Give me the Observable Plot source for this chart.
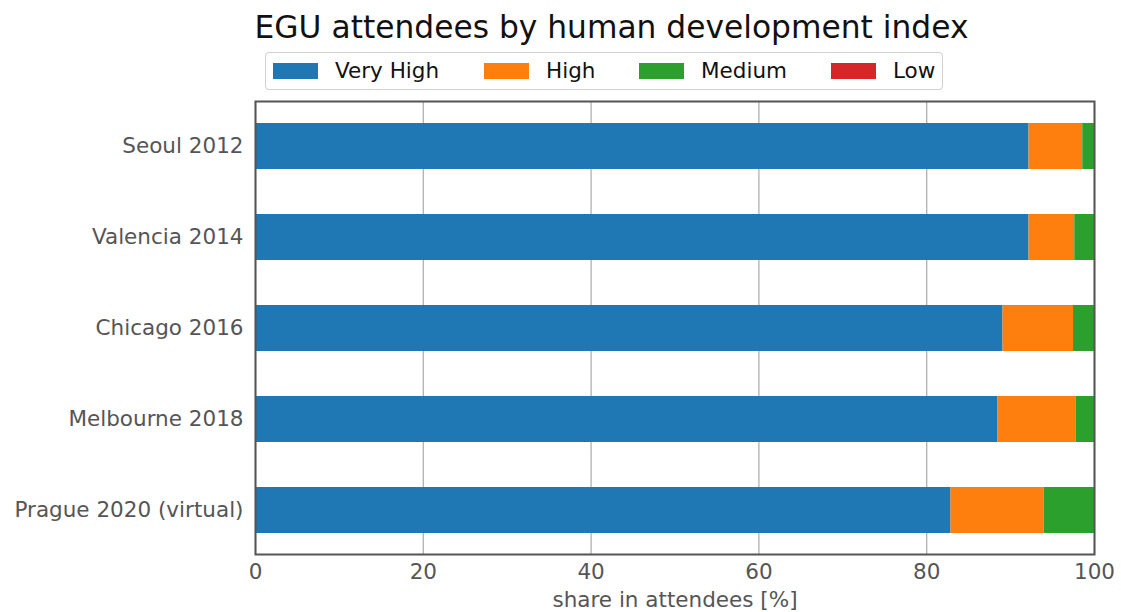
<!DOCTYPE html>
<html>
<head>
<meta charset="utf-8">
<script src="https://cdn.jsdelivr.net/npm/d3@7"></script>
<script src="https://cdn.jsdelivr.net/npm/@observablehq/plot@0.6"></script>
<style>
  html, body { margin: 0; padding: 0; background: #fff; }
  body { width: 1121px; height: 612px; position: relative; font-family: "DejaVu Sans", sans-serif; overflow: hidden; }
  #title { position: absolute; left: 155px; width: 913px; top: 9px; font-size: 31.3px; color: #111; text-align: center; white-space: nowrap; }
  #legend { position: absolute; left: 265px; top: 52px; width: 676px; height: 36px; border: 1px solid #d0d0d0; border-radius: 4px; }
  .item { position: absolute; top: -1px; height: 36px; display: flex; align-items: center; font-size: 21.5px; color: #111; }
  .sw { width: 45px; height: 16px; margin-right: 17px; margin-top: 1px; }
  #chart { position: absolute; left: 0; top: 96px; }
</style>
</head>
<body>
<div id="title">EGU attendees by human development index</div>
<div id="legend"></div>
<div id="chart"></div>
<script>
const cities = ["Seoul 2012", "Valencia 2014", "Chicago 2016", "Melbourne 2018", "Prague 2020 (virtual)"];
const levels = ["Very High", "High", "Medium", "Low"];
const colors = ["#1f77b4", "#ff7f0e", "#2ca02c", "#d62728"];
const veryHigh = [92.2, 92.2, 89.1, 88.5, 82.9];
const high     = [6.4, 5.45, 8.4, 9.3, 11.1];
const medium   = [1.4, 2.35, 2.5, 2.2, 6.0];
const low      = [0.0, 0.0, 0.0, 0.0, 0.0];
const xTicks = [0, 20, 40, 60, 80, 100];

const series = [veryHigh, high, medium, low];
const data = [];
levels.forEach((lv, j) => cities.forEach((c, i) => data.push({city: c, level: lv, value: series[j][i]})));

// legend
const legendLefts = [7, 218, 373, 565];
const legend = document.getElementById("legend");
levels.forEach((lv, j) => {
  const d = document.createElement("div");
  d.className = "item";
  d.style.left = legendLefts[j] + "px";
  d.innerHTML = `<div class="sw" style="background:${colors[j]}"></div><span>${lv}</span>`;
  legend.appendChild(d);
});

const chart = Plot.plot({
  width: 1121,
  height: 516,
  marginLeft: 255,
  marginRight: 27,
  marginTop: 5,
  marginBottom: 58,
  style: {fontFamily: "DejaVu Sans, sans-serif", fontSize: "21.5px", background: "#fff"},
  x: {domain: [0, 100]},
  y: {domain: cities, paddingInner: 0.5, paddingOuter: 0.225},
  color: {domain: levels, range: colors},
  marks: [
    Plot.gridX(xTicks, {stroke: "#b0b0b0", strokeOpacity: 1, strokeWidth: 1.3}),
    Plot.barX(data, Plot.stackX({x: "value", y: "city", fill: "level"})),
    Plot.axisX({ticks: xTicks, tickSize: 0, tickPadding: 9, fill: "#555", label: "share in attendees [%]", labelAnchor: "center", labelArrow: "none", labelOffset: 52}),
    Plot.axisY({tickSize: 0, tickPadding: 12, fill: "#555", label: null}),
    Plot.frame({stroke: "#555", strokeWidth: 2})
  ]
});
document.getElementById("chart").appendChild(chart);
</script>
</body>
</html>
